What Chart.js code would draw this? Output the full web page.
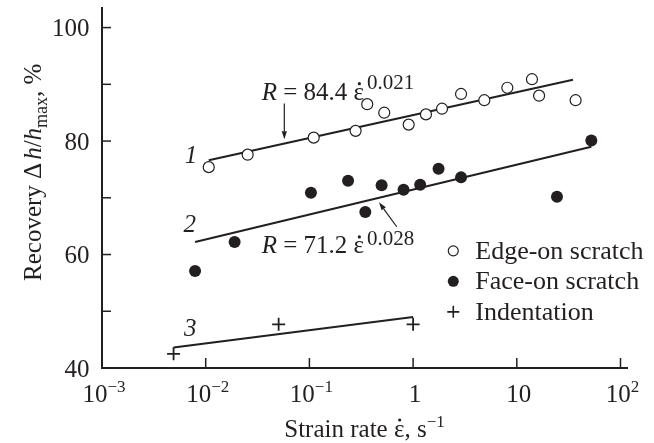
<!DOCTYPE html>
<html>
<head>
<meta charset="utf-8">
<title>Recovery vs strain rate</title>
<script src="https://cdn.jsdelivr.net/npm/chart.js"></script>
<style>
  html, body { margin: 0; padding: 0; background: #fff; }
  canvas { display: block; }
</style>
</head>
<body>
<canvas id="myChart" width="654" height="443"></canvas>
<script>
// 1: edge-on scratch (open circles)
var edgeX = [0.0107, 0.0254, 0.110, 0.279, 0.361, 0.527, 0.906, 1.33, 1.90, 2.90, 4.86, 8.10, 14.0, 16.4, 36.9];
var edgeY = [75.4, 77.6, 80.6, 81.8, 86.5, 85.0, 82.9, 84.7, 85.7, 88.3, 87.2, 89.4, 90.9, 88.0, 87.2];
// 2: face-on scratch (filled circles)
var faceX = [0.0079, 0.019, 0.1035, 0.236, 0.346, 0.497, 0.809, 1.17, 1.76, 2.90, 24.4, 52.3];
var faceY = [57.1, 62.2, 70.9, 73.0, 67.5, 72.2, 71.4, 72.3, 75.1, 73.6, 70.2, 80.1];
// 3: indentation (crosses)
var indentX = [0.0049, 0.0505, 1.0];
var indentY = [42.5, 47.7, 47.7];
// fitted lines, end points
var fit1X = [0.0107, 34.8], fit1Y = [76.6, 90.8];
var fit2X = [0.0079, 52.3], fit2Y = [62.2, 79.0];
var fit3X = [0.0049, 1.0],  fit3Y = [43.6, 49.0];

var xTicks = [1e-3, 1e-2, 1e-1, 1, 10, 100];
var xTickBase = ['10', '10', '10', '1', '10', '10'];
var xTickExp = ['\u22123', '\u22122', '\u22121', '', '', '2'];
var yTicks = [40, 50, 60, 70, 80, 90, 100];
var yTickLabels = ['40', '', '60', '', '80', '', '100'];

var legendNames = ['Edge-on scratch', 'Face-on scratch', 'Indentation'];
var curveNames = ['1', '2', '3'];
var curveLabelX = [0.0072, 0.0070, 0.0071];
var curveLabelY = [77.7, 65.4, 47.2];

var ink = '#231f20';
var serif = "'Liberation Serif', 'Times New Roman', serif";
function font(size, italic) { return (italic ? 'italic ' : '') + size + 'px ' + serif; }
function pts(xs, ys) { return xs.map(function (x, i) { return {x: x, y: ys[i]}; }); }

function richWidth(ctx, segs) {
  var w = 0;
  segs.forEach(function (s) { ctx.font = s.font; w += ctx.measureText(s.t).width + (s.gap || 0); });
  return w;
}
// segments of text with their own font / offset; "dot" puts a dot above (strain-rate epsilon)
function drawRich(ctx, segs, x, y, align) {
  var w = richWidth(ctx, segs);
  var cx = align === 'center' ? x - w / 2 : (align === 'right' ? x - w : x);
  segs.forEach(function (s) {
    ctx.font = s.font;
    cx += (s.gap || 0);
    var sw = ctx.measureText(s.t).width;
    ctx.fillText(s.t, cx, y + (s.dy || 0));
    if (s.dot) {
      ctx.beginPath(); ctx.arc(cx + sw / 2 + 0.5, y + (s.dy || 0) - 16.5, 1.6, 0, Math.PI * 2); ctx.fill();
    }
    cx += sw;
  });
}
function arrow(ctx, x0, y0, x1, y1) {
  var ang = Math.atan2(y1 - y0, x1 - x0), len = 8, half = 2.6;
  ctx.beginPath(); ctx.moveTo(x0, y0);
  ctx.lineTo(x1 - len * Math.cos(ang), y1 - len * Math.sin(ang)); ctx.stroke();
  ctx.beginPath();
  ctx.moveTo(x1, y1);
  ctx.lineTo(x1 - len * Math.cos(ang) + half * Math.sin(ang), y1 - len * Math.sin(ang) - half * Math.cos(ang));
  ctx.lineTo(x1 - len * Math.cos(ang) - half * Math.sin(ang), y1 - len * Math.sin(ang) + half * Math.cos(ang));
  ctx.closePath(); ctx.fill();
}

var decorations = {
  id: 'decorations',
  afterDraw: function (chart) {
    var ctx = chart.ctx, xs = chart.scales.x, ys = chart.scales.y, a = chart.chartArea;
    ctx.save();
    ctx.strokeStyle = ink; ctx.fillStyle = ink;
    ctx.textAlign = 'left'; ctx.textBaseline = 'alphabetic';

    // inward tick marks
    ctx.lineWidth = 1.5;
    xTicks.forEach(function (v) {
      var p = xs.getPixelForValue(v);
      ctx.beginPath(); ctx.moveTo(p, a.bottom); ctx.lineTo(p, a.bottom - 10); ctx.stroke();
    });
    yTicks.forEach(function (v) {
      var p = ys.getPixelForValue(v);
      ctx.beginPath(); ctx.moveTo(a.left, p); ctx.lineTo(a.left + 9, p); ctx.stroke();
    });

    // tick labels
    xTicks.forEach(function (v, i) {
      var p = xs.getPixelForValue(v);
      var segs = [{t: xTickBase[i], font: font(25)}];
      if (xTickExp[i]) segs.push({t: xTickExp[i], font: font(17), dy: -10});
      drawRich(ctx, segs, p + 2, a.bottom + 34, 'center');
    });
    yTicks.forEach(function (v, i) {
      if (!yTickLabels[i]) return;
      drawRich(ctx, [{t: yTickLabels[i], font: font(25)}], a.left - 12.5, ys.getPixelForValue(v) + 8.5, 'right');
    });

    // axis titles
    drawRich(ctx, [
      {t: 'Strain rate ', font: font(25)},
      {t: '\u03b5', font: font(25), dot: true},
      {t: ', s', font: font(25)},
      {t: '\u22121', font: font(17), dy: -10}
    ], (a.left + a.right) / 2, a.bottom + 68.5, 'center');

    ctx.save();
    ctx.translate(41, a.top + 164);
    ctx.rotate(-Math.PI / 2);
    drawRich(ctx, [
      {t: 'Recovery \u0394', font: font(25)},
      {t: 'h', font: font(25, true), gap: 3},
      {t: '/', font: font(25)},
      {t: 'h', font: font(25, true)},
      {t: 'max', font: font(18), dy: 6},
      {t: ', %', font: font(25)}
    ], 0, 0, 'center');
    ctx.restore();

    // curve numbers
    curveNames.forEach(function (n, i) {
      drawRich(ctx, [{t: n, font: font(25, true)}],
        xs.getPixelForValue(curveLabelX[i]), ys.getPixelForValue(curveLabelY[i]) + 8.5, 'center');
    });

    // fit equations
    drawRich(ctx, [
      {t: 'R', font: font(25, true)},
      {t: ' = 84.4 ', font: font(25)},
      {t: '\u03b5', font: font(25), dot: true},
      {t: '0.021', font: font(21), dy: -11, gap: 3}
    ], xs.getPixelForValue(0.0347), ys.getPixelForValue(87.2), 'left');
    drawRich(ctx, [
      {t: 'R', font: font(25, true)},
      {t: ' = 71.2 ', font: font(25)},
      {t: '\u03b5', font: font(25), dot: true},
      {t: '0.028', font: font(21), dy: -8, gap: 3}
    ], xs.getPixelForValue(0.0347), ys.getPixelForValue(60.2), 'left');

    // arrows
    ctx.lineWidth = 1.2;
    arrow(ctx, xs.getPixelForValue(0.0573), ys.getPixelForValue(86.6), xs.getPixelForValue(0.0573), ys.getPixelForValue(80.3));
    arrow(ctx, xs.getPixelForValue(0.695), ys.getPixelForValue(64.9), xs.getPixelForValue(0.469), ys.getPixelForValue(69.2));

    // legend
    var lx = xs.getPixelForValue(2.44), ly = ys.getPixelForValue(60.65), step = 30.5;
    legendNames.forEach(function (name, i) {
      var y = ly + i * step;
      ctx.lineWidth = i === 2 ? 1.6 : 1.2;
      if (i === 0) { ctx.beginPath(); ctx.arc(lx, y, 5, 0, Math.PI * 2); ctx.fillStyle = '#fff'; ctx.fill(); ctx.stroke(); ctx.fillStyle = ink; }
      if (i === 1) { ctx.beginPath(); ctx.arc(lx, y, 5.5, 0, Math.PI * 2); ctx.fill(); }
      if (i === 2) { ctx.beginPath(); ctx.moveTo(lx - 6, y); ctx.lineTo(lx + 6, y); ctx.moveTo(lx, y - 6); ctx.lineTo(lx, y + 6); ctx.stroke(); }
      drawRich(ctx, [{t: name, font: font(26)}], lx + 22, y + 8, 'left');
    });
    ctx.restore();
  }
};

var ctx = document.getElementById('myChart').getContext('2d');
var myChart = new Chart(ctx, {
  type: 'scatter',
  data: {
    datasets: [
      {label: 'Edge-on scratch', data: pts(edgeX, edgeY), order: 1, pointStyle: 'circle', pointRadius: 5.5,
       backgroundColor: '#fff', borderColor: ink, borderWidth: 1.2},
      {label: 'Face-on scratch', data: pts(faceX, faceY), order: 1, pointStyle: 'circle', pointRadius: 6,
       backgroundColor: ink, borderColor: ink, borderWidth: 0},
      {label: 'Indentation', data: pts(indentX, indentY), order: 1, pointStyle: 'cross', pointRadius: 6.5,
       borderColor: ink, borderWidth: 1.8},
      {label: 'fit 1', data: pts(fit1X, fit1Y), order: 2, showLine: true, pointRadius: 0, borderColor: ink, borderWidth: 2},
      {label: 'fit 2', data: pts(fit2X, fit2Y), order: 2, showLine: true, pointRadius: 0, borderColor: ink, borderWidth: 2},
      {label: 'fit 3', data: pts(fit3X, fit3Y), order: 2, showLine: true, pointRadius: 0, borderColor: ink, borderWidth: 2}
    ]
  },
  options: {
    responsive: false,
    animation: false,
    devicePixelRatio: 1,
    layout: {padding: {top: 8, right: 27, left: 0, bottom: 0}},
    plugins: {legend: {display: false}, tooltip: {enabled: false}},
    scales: {
      x: {
        type: 'logarithmic', min: 1e-3, max: 115.5,
        afterBuildTicks: function (s) { s.ticks = xTicks.map(function (v) { return {value: v}; }); },
        afterFit: function (s) { s.height = 75; },
        grid: {display: false},
        ticks: {display: false},
        border: {display: true, color: ink, width: 2}
      },
      y: {
        type: 'linear', min: 40, max: 103.4,
        afterBuildTicks: function (s) { s.ticks = yTicks.map(function (v) { return {value: v}; }); },
        afterFit: function (s) { s.width = 102; },
        grid: {display: false},
        ticks: {display: false},
        border: {display: true, color: ink, width: 2}
      }
    }
  },
  plugins: [decorations]
});
</script>
</body>
</html>
